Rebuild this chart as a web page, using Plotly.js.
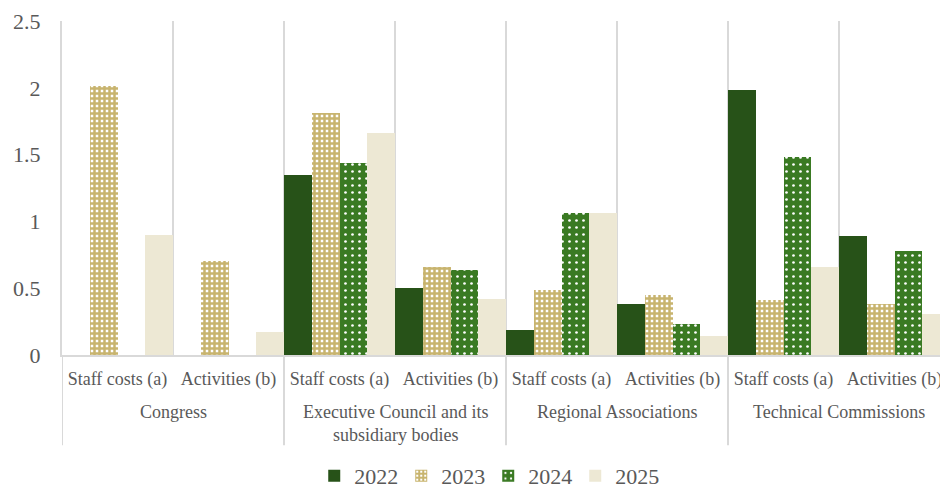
<!DOCTYPE html>
<html>
<head>
<meta charset="utf-8">
<script src="https://cdn.plot.ly/plotly-3.0.1.min.js"></script>
<style>
html,body{margin:0;padding:0;overflow:hidden;background:#fff;}
#chart{width:960px;height:488px;}
</style>
</head>
<body>
<div id="chart"></div>
<script>
const groupNames = ['Congress','Executive Council and its<br>subsidiary bodies','Regional Associations','Technical Commissions'];
const groups = ['Congress','Congress',
  'Executive Council and its<br>subsidiary bodies','Executive Council and its<br>subsidiary bodies',
  'Regional Associations','Regional Associations',
  'Technical Commissions','Technical Commissions'];
const subcats = ['Staff costs (a)','Activities (b)','Staff costs (a)','Activities (b)',
  'Staff costs (a)','Activities (b)','Staff costs (a)','Activities (b)'];
const years = ['2022','2023','2024','2025'];
const v2022 = [0, 0, 1.35, 0.50, 0.19, 0.38, 1.98, 0.89];
const v2023 = [2.01, 0.70, 1.81, 0.66, 0.49, 0.45, 0.41, 0.38];
const v2024 = [0, 0, 1.44, 0.64, 1.06, 0.23, 1.48, 0.78];
const v2025 = [0.90, 0.17, 1.66, 0.42, 1.06, 0.14, 0.66, 0.31];

const idx = subcats.map((_, i) => i);
const bounds = idx.map(i => i - 0.5).concat([subcats.length - 0.5]);
const font = 'Liberation Serif, Times New Roman, serif';
const grey = '#d9d9d9';
const txt = '#595959';

const traces = [
  {type:'bar', name:years[0], x:idx, y:v2022,
   marker:{color:'#275218', line:{width:0}}},
  {type:'bar', name:years[1], x:idx, y:v2023,
   marker:{color:'#c8b46e', line:{width:0},
     pattern:{shape:'+', fgcolor:'#c8b46e', bgcolor:'#ffffff', size:5, solidity:0.75, fillmode:'replace'}}},
  {type:'bar', name:years[2], x:idx, y:v2024,
   marker:{color:'#3a7a23', line:{width:0},
     pattern:{shape:'.', fgcolor:'#ffffff', bgcolor:'#3a7a23', size:7, solidity:0.12, fillmode:'replace'}}},
  {type:'bar', name:years[3], x:idx, y:v2025,
   marker:{color:'#ede8d4', line:{width:0}}}
];

// group label annotations and divider shapes derived from the groups array
const annotations = [];
const shapes = [];
groupNames.forEach(g => {
  const members = idx.filter(i => groups[i] === g);
  const center = members.reduce((a, b) => a + b, 0) / members.length;
  annotations.push({x:center, xref:'x', y:-0.135, yref:'paper', yanchor:'top', xanchor:'center',
    text:g, showarrow:false, font:{family:font, size:18, color:txt}});
});
idx.forEach(i => {
  if (i === 0 || groups[i] !== groups[i - 1]) {
    shapes.push({type:'line', xref:'x', yref:'paper', x0:i - 0.5, x1:i - 0.5, y0:0, y1:-0.27,
      line:{color:grey, width:2}, layer:'below'});
  }
});
shapes.push({type:'line', xref:'x', yref:'paper', x0:subcats.length - 0.5, x1:subcats.length - 0.5, y0:0, y1:-0.27,
  line:{color:grey, width:2}, layer:'below'});

const layout = {
  width:960, height:488,
  margin:{l:62, r:10, t:21, b:133, autoexpand:false},
  paper_bgcolor:'#fff', plot_bgcolor:'#fff',
  barmode:'group', bargap:0, bargroupgap:0,
  font:{family:font, color:txt, size:18},
  showlegend:true,
  legend:{orientation:'h', x:0.48, xanchor:'center', y:-0.362, yanchor:'middle',
    font:{family:font, size:22, color:txt}, itemwidth:30, entrywidth:42, traceorder:'normal'},
  xaxis:{range:[-0.5, subcats.length - 0.5], tickmode:'array', tickvals:idx, ticktext:subcats,
    showgrid:false, zeroline:false, showline:true, linecolor:grey, linewidth:2, ticks:'',
    ticklabelstandoff:6, tickfont:{family:font, size:18, color:txt},
    minor:{tickmode:'array', tickvals:bounds, showgrid:true, gridcolor:grey, gridwidth:2, ticks:''}},
  yaxis:{range:[0,2.5], dtick:0.5, showgrid:false, zeroline:false, showline:true,
    linecolor:grey, linewidth:2, ticks:'', tickfont:{family:font, size:22, color:txt},
    ticklabelstandoff:15},
  annotations:annotations,
  shapes:shapes
};

Plotly.newPlot('chart', traces, layout, {displayModeBar:false, staticPlot:true});
</script>
</body>
</html>
